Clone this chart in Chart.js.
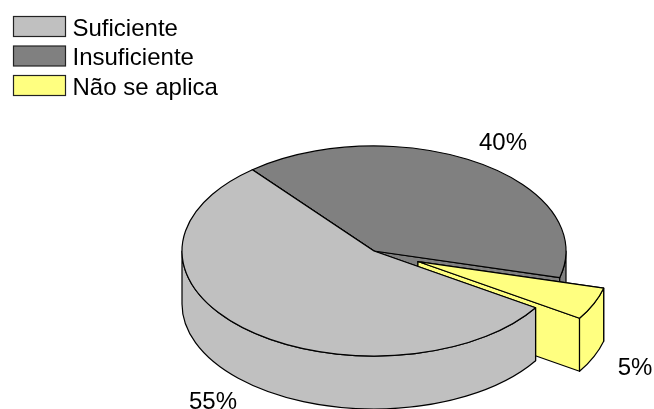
<!DOCTYPE html>
<html><head><meta charset="utf-8">
<style>html,body{margin:0;padding:0;background:#fff}#w{width:654px;height:409px;position:relative}</style>
<script src="https://cdn.jsdelivr.net/npm/chart.js@4"></script>
</head><body><div id="w"><canvas id="c" width="654" height="409"></canvas></div>
<script>
const categories = ['Suficiente', 'Insuficiente', 'Não se aplica'];
const values = [55, 40, 5];
const valueLabels = ['55%', '40%', '5%'];
const colors = ['#C0C0C0', '#808080', '#FFFF80'];
const explode = [0, 0, 48];
const labelSpots = [[213, 402], [503, 143], [635, 368]];
const legendSpots = [16, 45.5, 75];
const SQUASH = 0.547, DEPTH = 53, FONT = '24px "Liberation Sans", Arial, sans-serif';

function drawSlice(ctx, el, i) {
  const a0 = el.startAngle, a1 = el.endAngle, r = el.outerRadius, mid = (a0 + a1) / 2;
  const cx = el.x + explode[i] * Math.cos(mid);
  const cy = el.y + explode[i] * Math.sin(mid) * SQUASH;
  const ry = r * SQUASH;
  ctx.fillStyle = colors[i];
  ctx.strokeStyle = '#000';
  ctx.lineWidth = 1.2;
  ctx.lineJoin = 'round';
  [a0, a1].forEach(a => {
    const px = cx + r * Math.cos(a), py = cy + ry * Math.sin(a);
    ctx.beginPath();
    ctx.moveTo(cx, cy); ctx.lineTo(px, py); ctx.lineTo(px, py + DEPTH); ctx.lineTo(cx, cy + DEPTH);
    ctx.closePath(); ctx.fill(); ctx.stroke();
  });
  for (let n = -1; n < 3; n++) {
    const s = Math.max(a0, 2 * Math.PI * n), e = Math.min(a1, 2 * Math.PI * n + Math.PI);
    if (e <= s) continue;
    ctx.beginPath();
    ctx.ellipse(cx, cy, r, ry, 0, s, e);
    ctx.ellipse(cx, cy + DEPTH, r, ry, 0, e, s, true);
    ctx.closePath(); ctx.fill(); ctx.stroke();
  }
  ctx.beginPath();
  ctx.moveTo(cx, cy);
  ctx.ellipse(cx, cy, r, ry, 0, a0, a1);
  ctx.closePath(); ctx.fill(); ctx.stroke();
}

const pie3d = {
  id: 'pie3d',
  beforeDatasetsDraw(chart) {
    const ctx = chart.ctx, arcs = chart.getDatasetMeta(0).data;
    ctx.save();
    [1, 2, 0].forEach(i => drawSlice(ctx, arcs[i], i));
    ctx.restore();
    return false;
  },
  afterDraw(chart) {
    const ctx = chart.ctx;
    ctx.save();
    ctx.font = FONT;
    ctx.textBaseline = 'middle';
    ctx.fillStyle = '#000';
    ctx.textAlign = 'center';
    valueLabels.forEach((t, i) => ctx.fillText(t, labelSpots[i][0], labelSpots[i][1]));
    ctx.textAlign = 'left';
    categories.forEach((t, i) => {
      ctx.fillStyle = colors[i];
      ctx.strokeStyle = '#222';
      ctx.lineWidth = 1.2;
      ctx.fillRect(13.5, legendSpots[i] + 0.5, 52, 20);
      ctx.strokeRect(13.5, legendSpots[i] + 0.5, 52, 20);
      ctx.fillStyle = '#000';
      ctx.fillText(t, 72.5, legendSpots[i] + 13);
    });
    ctx.restore();
  }
};

new Chart(document.getElementById('c'), {
  type: 'pie',
  data: { labels: categories, datasets: [{ data: values, backgroundColor: colors, borderColor: '#000', borderWidth: 1 }] },
  options: {
    responsive: false,
    animation: false,
    rotation: 122.7,
    radius: 192,
    layout: { padding: { left: 94, top: 93 } },
    plugins: { legend: { display: false }, tooltip: { enabled: false } }
  },
  plugins: [pie3d]
});
</script></body></html>
